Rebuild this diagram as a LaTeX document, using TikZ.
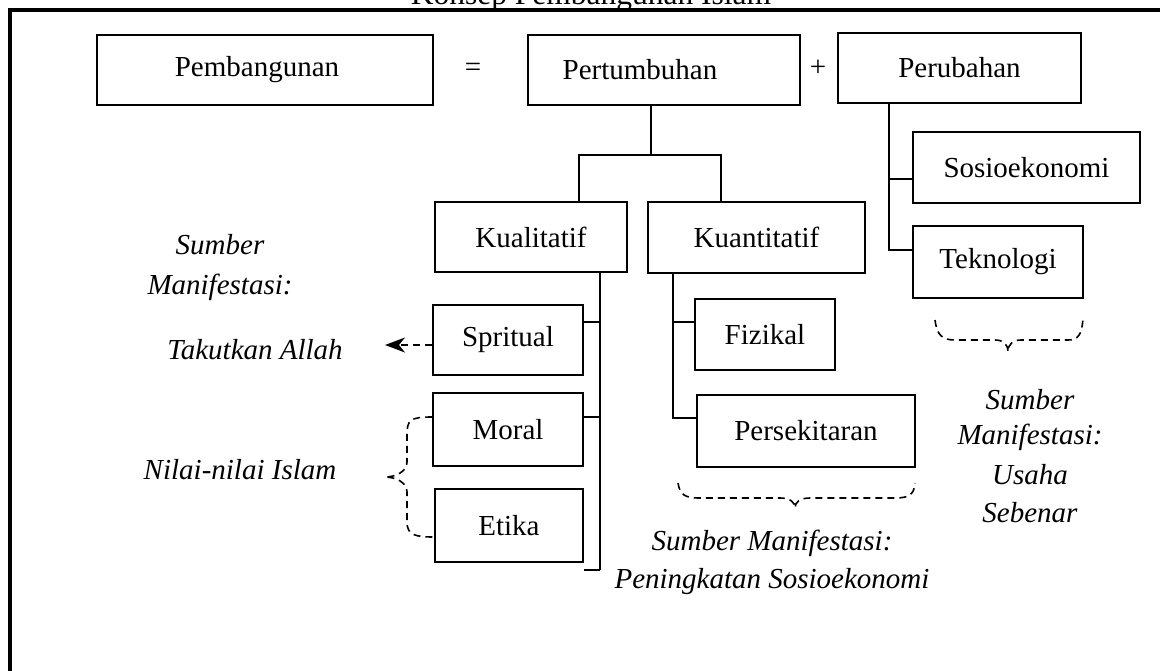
\documentclass[tikz,border=0pt]{standalone}
\usepackage{fontspec}
\setmainfont{Liberation Serif}
\usetikzlibrary{arrows.meta}
\begin{document}
\begin{tikzpicture}[x=1pt,y=-1pt,
  box/.style={draw,line width=1.8pt,inner sep=0pt,anchor=center},
  conn/.style={line width=2pt},
  brace/.style={line width=1.6pt,dash pattern=on 7pt off 5pt},
  lbl/.style={inner sep=0pt,font=\itshape},
  op/.style={inner sep=0pt}]
\useasboundingbox (0,0) rectangle (1160,670);
\clip (0,0) rectangle (1160,670);
\fontsize{29}{34}\selectfont
% frame
\draw[line width=3.5pt] (10,700) -- (10,10) -- (1180,10);
\node[op,anchor=base,font=\fontsize{31.5}{36}\selectfont] (title) at (591,4) {Konsep Pembangunan Islam};
% top row
\node[box,minimum width=336pt,minimum height=70pt] (pemb) at (265,70) {};
\node[op] (pembt) at (257,70) {Pembangunan};
\node[op] (eq) at (473,70) {=};
\node[box,minimum width=272pt,minimum height=70pt] (pert) at (664,70) {};
\node[op] (pertt) at (640,70) {Pertumbuhan};
\node[op] (plus) at (818,68) {+};
\node[box,minimum width=243pt,minimum height=70pt] (perub) at (959.5,68) {Perubahan};
% right column
\node[box,minimum width=227pt,minimum height=71pt] (sosio) at (1026.5,167.5) {Sosioekonomi};
\node[box,minimum width=170pt,minimum height=72pt] (tekno) at (998,262) {Teknologi};
% second row
\node[box,minimum width=192pt,minimum height=70pt] (kual) at (531,237) {Kualitatif};
\node[box,minimum width=217pt,minimum height=71pt] (kuan) at (756.5,237.5) {Kuantitatif};
\node[box,minimum width=140pt,minimum height=71pt] (fiz) at (765,334.5) {Fizikal};
\node[box,minimum width=218pt,minimum height=72pt] (pers) at (806,431) {Persekitaran};
\node[box,minimum width=150pt,minimum height=70pt] (sprit) at (508,340) {Spritual};
\node[box,minimum width=150pt,minimum height=73pt] (moral) at (508,429.5) {Moral};
\node[box,minimum width=148pt,minimum height=73pt] (etika) at (509,525.5) {Etika};
% connectors
\coordinate (jA) at (651,155);
\coordinate (jL) at (579,155);
\coordinate (jR) at (721,155);
\draw[conn] (pert.south -| jA) -- (jA);
\draw[conn] (kual.north -| jL) -- (jL) -- (jR) -- (kuan.north -| jR);
\coordinate (kb) at (600,570);
\draw[conn] (kual.south -| kb) -- (kb);
\draw[conn] (sprit.east |- 0,322) -- (600,322);
\draw[conn] (moral.east |- 0,417) -- (600,417);
\draw[conn] (etika.east |- kb) -- (kb);
\coordinate (qb) at (673,418);
\draw[conn] (kuan.south -| qb) -- (qb) -- (pers.west |- qb);
\draw[conn] (fiz.west |- 0,322) -- (673,322);
\coordinate (pb) at (889,250);
\draw[conn] (perub.south -| pb) -- (pb) -- (tekno.west |- pb);
\draw[conn] (sosio.west |- 0,179) -- (889,179);
% arrow
\coordinate (arr) at (385,345);
\draw[brace,-{Stealth[length=20pt,width=15pt,inset=6pt]}] (sprit.west |- arr) -- (arr);
% left brace
\draw[brace] (moral.west |- 0,417) .. controls (410,417) and (407,420) .. (407,435) -- (407,462)
  .. controls (407,472) and (395,477) .. (385,477)
  .. controls (395,477) and (407,482) .. (407,492) -- (407,522)
  .. controls (407,535) and (415,537) .. (etika.west |- 0,537);
% bottom brace
\draw[brace] (678,483) .. controls (680,495) and (685,498) .. (700,498) -- (780,498)
  .. controls (790,498) and (795,502) .. (795,508)
  .. controls (795,502) and (800,498) .. (810,498) -- (895,498)
  .. controls (910,498) and (914,494) .. (915,483);
% right brace
\draw[brace] (935,320) .. controls (937,335) and (942,340) .. (955,340) -- (995,340)
  .. controls (1003,340) and (1008,344) .. (1008,352)
  .. controls (1008,344) and (1013,340) .. (1021,340) -- (1068,340)
  .. controls (1078,340) and (1082,335) .. (1083,318);
% labels
\node[lbl] (s1) at (220,245) {Sumber};
\node[lbl] (m1) at (220,287) {Manifestasi:};
\node[lbl] (tk) at (255,350) {Takutkan Allah};
\node[lbl] (ni) at (240,470) {Nilai-nilai Islam};
\node[lbl] (s2) at (772,543) {Sumber Manifestasi:};
\node[lbl] (p2) at (772,582) {Peningkatan Sosioekonomi};
\node[lbl] (s3) at (1030,400) {Sumber};
\node[lbl] (m3) at (1030,437) {Manifestasi:};
\node[lbl] (u3) at (1030,475) {Usaha};
\node[lbl] (b3) at (1030,513) {Sebenar};
\end{tikzpicture}
\end{document}
